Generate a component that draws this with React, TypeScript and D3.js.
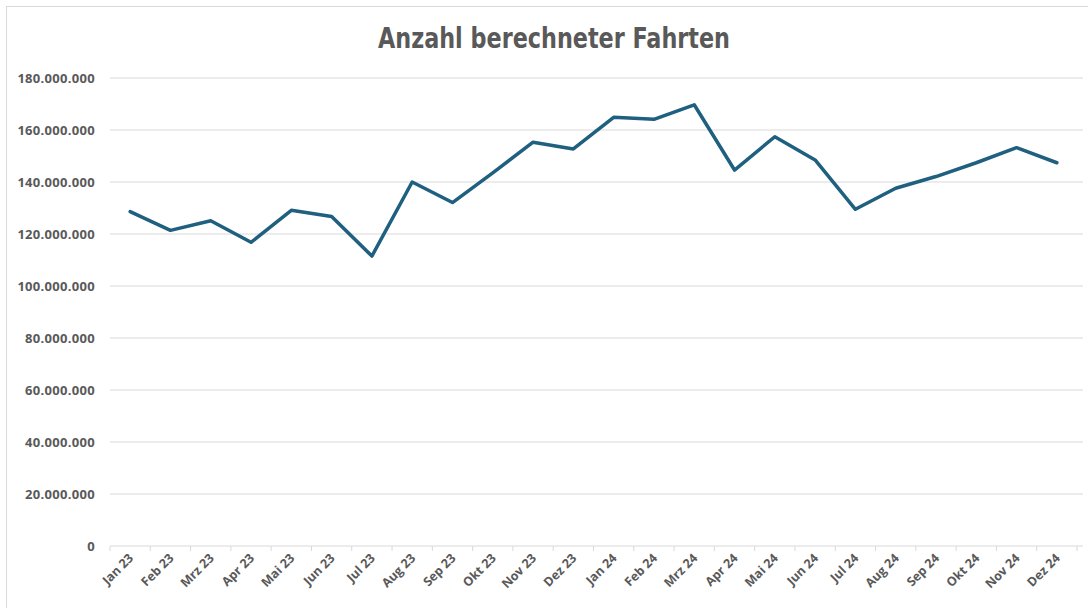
import React from "react";
import * as d3 from "d3";

const months = [
  "Jan 23","Feb 23","Mrz 23","Apr 23","Mai 23","Jun 23","Jul 23","Aug 23","Sep 23","Okt 23","Nov 23","Dez 23",
  "Jan 24","Feb 24","Mrz 24","Apr 24","Mai 24","Jun 24","Jul 24","Aug 24","Sep 24","Okt 24","Nov 24","Dez 24",
];
const trips = [
  128.6, 121.4, 125.1, 116.8, 129.1, 126.7, 111.5, 140.0, 132.1, 143.5, 155.3, 152.7,
  164.9, 164.1, 169.7, 144.6, 157.4, 148.5, 129.5, 137.6, 142.1, 147.4, 153.2, 147.4,
].map((v) => v * 1e6);
const yTicks = [0, 20e6, 40e6, 60e6, 80e6, 100e6, 120e6, 140e6, 160e6, 180e6];
const title = "Anzahl berechneter Fahrten";

const W = 1088, H = 608;
const left = 110, right = 1077, top = 78, bottom = 546;

export default function App() {
  const x = d3.scaleBand<string>().domain(months).range([left, right]).paddingInner(0).paddingOuter(0);
  const y = d3.scaleLinear().domain([0, 180e6]).range([bottom, top]);
  const fmt = (v: number) => d3.format(",")(v).replace(/,/g, ".");
  const line = d3.line<number>().x((_, i) => x(months[i])! + x.bandwidth() / 2).y((d) => y(d));
  const tickXs = months.map((m) => x(m)!).concat([right]);
  const font = "'Open Sans', 'Liberation Sans', sans-serif";
  return (
    <svg width={W} height={H} style={{ position: "absolute", left: 0, top: 0, background: "#fff" }}>
      <rect x={6.5} y={6.5} width={W} height={H} fill="#fff" stroke="#d9d9d9" />
      <text x={554} y={48} textAnchor="middle" fontFamily="'Liberation Sans Narrow', 'DejaVu Sans Condensed', sans-serif"
        fontWeight="bold" fontSize={29} fill="#595959" textLength={352} lengthAdjust="spacingAndGlyphs">{title}</text>
      {yTicks.map((t) => (
        <g key={t}>
          {t > 0 && <line x1={left} x2={right + 6} y1={y(t)} y2={y(t)} stroke="#d9d9d9" strokeWidth={1} />}
          <text x={95} y={y(t)} dy="0.35em" textAnchor="end" fontFamily={font} fontWeight="bold" fontSize={13}
            letterSpacing={0.3} fill="#595959">{fmt(t)}</text>
        </g>
      ))}
      <line x1={left} x2={right + 6} y1={bottom} y2={bottom} stroke="#d9d9d9" strokeWidth={1} />
      {tickXs.map((tx, i) => (
        <line key={i} x1={tx} x2={tx} y1={bottom} y2={bottom + 5} stroke="#d9d9d9" strokeWidth={1} />
      ))}
      {months.map((m) => {
        const cx = x(m)! + x.bandwidth() / 2 + 4;
        const cy = bottom + 13;
        return (
          <text key={m} x={cx} y={cy} textAnchor="end" transform={`rotate(-45, ${cx}, ${cy})`}
            fontFamily={font} fontWeight="bold" fontSize={12.5} fill="#595959">{m}</text>
        );
      })}
      <path d={line(trips)!} fill="none" stroke="#1f5f7f" strokeWidth={3.5} strokeLinejoin="round" strokeLinecap="round" />
    </svg>
  );
}
